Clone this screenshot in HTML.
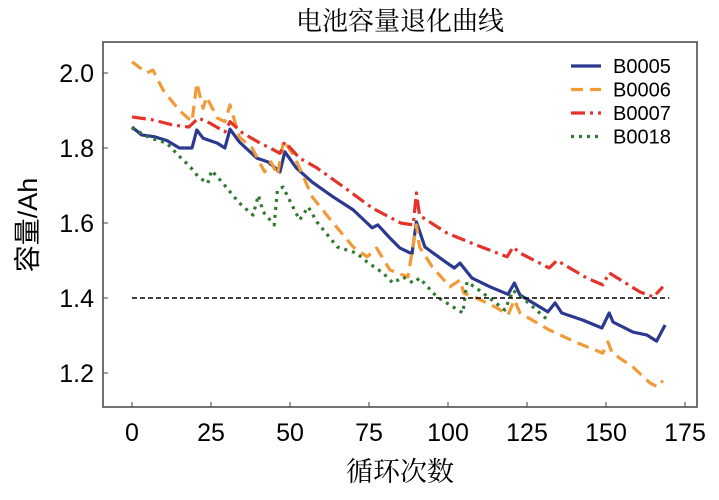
<!DOCTYPE html>
<html><head><meta charset="utf-8"><style>
body{margin:0;background:#fff}
svg text{font-family:"Liberation Sans","Noto Sans CJK SC",sans-serif}
</style></head><body>
<svg width="719" height="495" viewBox="0 0 719 495">
<text x="400" y="30" text-anchor="middle" font-size="26" style="font-family:'Liberation Serif','Noto Serif CJK SC',serif">电池容量退化曲线</text>
<rect x="103" y="42" width="594" height="365" fill="none" stroke="#444" stroke-width="1.5"/>
<g id="axes"></g>
<g id="series"></g>
<line id="thr" stroke="#000" stroke-width="1.4" stroke-dasharray="5,3"/>
<g id="legend"></g>
<text x="400" y="481" text-anchor="middle" font-size="27" style="font-family:'Liberation Serif','Noto Serif CJK SC',serif">循环次数</text>
<text transform="translate(37,225) rotate(-90)" text-anchor="middle" font-size="27">容量/Ah</text>
</svg>
<script>
const xTicks=[0,25,50,75,100,125,150,175];
const yTicks=[1.2,1.4,1.6,1.8,2.0];
const seriesNames=["B0005","B0006","B0007","B0018"];
const b0005=[[0,1.856],[3,1.835],[7,1.83],[11,1.82],[15,1.80],[19,1.80],[20.5,1.848],[22.5,1.826],[27,1.813],[29.4,1.80],[31,1.85],[34,1.816],[39.5,1.773],[43,1.763],[46.8,1.736],[48.4,1.79],[52,1.747],[57,1.709],[63.6,1.67],[70,1.635],[76,1.587],[77.8,1.595],[81.6,1.56],[84.8,1.533],[88.6,1.518],[90,1.603],[92.7,1.536],[99.7,1.493],[102,1.48],[103.8,1.493],[107.6,1.453],[113.3,1.43],[119,1.41],[121,1.44],[122.8,1.408],[131.6,1.363],[133.9,1.387],[136,1.36],[142.7,1.341],[148.7,1.32],[151,1.36],[152.2,1.336],[158.5,1.309],[163,1.301],[166,1.285],[168.7,1.328]];
const b0006=[[0,2.03],[4.7,2.0],[6.6,2.008],[9.8,1.955],[15,1.90],[19,1.87],[20.5,1.973],[22.5,1.906],[23.6,1.936],[27,1.88],[29.4,1.87],[31,1.915],[34,1.829],[38,1.80],[42,1.736],[44,1.763],[46,1.728],[48,1.82],[51.5,1.776],[57,1.67],[62.7,1.61],[70,1.536],[74.4,1.51],[77.4,1.533],[81.6,1.475],[87.3,1.456],[89.6,1.573],[90,1.595],[91,1.536],[95,1.483],[100.6,1.43],[103.8,1.448],[105,1.413],[109,1.40],[115,1.376],[119,1.355],[121,1.395],[122.8,1.36],[132,1.315],[141,1.28],[149,1.253],[150.6,1.283],[152,1.253],[158.5,1.216],[164,1.173],[166.4,1.163],[168,1.18]];
const b0007=[[0,1.883],[6.6,1.875],[13,1.861],[18,1.856],[21,1.88],[24.7,1.866],[29.4,1.843],[31,1.87],[35,1.84],[40.5,1.813],[43.7,1.80],[46.8,1.786],[48.4,1.816],[53,1.773],[58.5,1.747],[67,1.696],[76,1.64],[85,1.60],[89,1.595],[90,1.68],[91,1.62],[99.7,1.573],[109,1.541],[118.7,1.51],[120.6,1.536],[122.8,1.52],[132,1.48],[134.5,1.50],[144,1.453],[149,1.435],[151,1.467],[160.8,1.416],[165,1.403],[168,1.43]];
const b0018=[[0,1.853],[5.7,1.827],[11,1.813],[14.6,1.781],[18.4,1.75],[21,1.723],[24,1.706],[25.2,1.74],[28.8,1.706],[34,1.653],[38.3,1.621],[40,1.674],[41.5,1.63],[45,1.595],[46,1.688],[47.8,1.696],[53,1.608],[55.8,1.643],[58.5,1.603],[65,1.536],[71,1.52],[74.4,1.496],[79.4,1.467],[82.6,1.44],[85.8,1.456],[89,1.44],[91,1.453],[96.5,1.403],[104.7,1.36],[106,1.443],[110,1.42],[118,1.368],[120.6,1.42],[125,1.39],[131.6,1.341]];
const threshold=1.4;
const NS="http://www.w3.org/2000/svg";
function X(c){return 132+c*3.16;}
function Y(v){return 73+(2.0-v)*375;}
const axes=document.getElementById('axes');
xTicks.forEach(t=>{
 const l=document.createElementNS(NS,'line');
 l.setAttribute('x1',X(t));l.setAttribute('x2',X(t));l.setAttribute('y1',407);l.setAttribute('y2',402);l.setAttribute('stroke','#444');
 
 
 axes.appendChild(l);
 const tx=document.createElementNS(NS,'text');
 tx.setAttribute('x',X(t));tx.setAttribute('y',441);tx.setAttribute('text-anchor','middle');tx.setAttribute('font-size','25');
 tx.textContent=t;
 
 
 axes.appendChild(tx);
});
yTicks.forEach(t=>{
 const l=document.createElementNS(NS,'line');
 l.setAttribute('x1',103);l.setAttribute('x2',108);l.setAttribute('y1',Y(t));l.setAttribute('y2',Y(t));l.setAttribute('stroke','#444');
 
 
 axes.appendChild(l);
 const tx=document.createElementNS(NS,'text');
 tx.setAttribute('x',94);tx.setAttribute('y',Y(t)+9);tx.setAttribute('text-anchor','end');tx.setAttribute('font-size','25');
 tx.textContent=t.toFixed(1);
 
 
 axes.appendChild(tx);
});
const styles=[["#2b3990","none"],["#f29a38","12,7"],["#e3332b","14,5,3,5"],["#2f7a2f","3,5"]];
const datas=[b0005,b0006,b0007,b0018];
const sg=document.getElementById('series');
datas.forEach((d,i)=>{
 const p=document.createElementNS(NS,'polyline');
 p.setAttribute('points',d.map(q=>X(q[0]).toFixed(1)+','+Y(q[1]).toFixed(1)).join(' '));
 p.setAttribute('fill','none');p.setAttribute('stroke',styles[i][0]);p.setAttribute('stroke-width','3.2');
 p.setAttribute('stroke-dasharray',styles[i][1]);p.setAttribute('stroke-linejoin','round');
 
 
 sg.appendChild(p);
});
const thr=document.getElementById('thr');
thr.setAttribute('x1',X(0));thr.setAttribute('x2',X(170));thr.setAttribute('y1',Y(threshold));thr.setAttribute('y2',Y(threshold));
const lg=document.getElementById('legend');
seriesNames.forEach((n,i)=>{
 const y=66+i*23.5;
 const l=document.createElementNS(NS,'line');
 l.setAttribute('x1',571);l.setAttribute('x2',601);l.setAttribute('y1',y);l.setAttribute('y2',y);
 l.setAttribute('stroke',styles[i][0]);l.setAttribute('stroke-width','3.2');l.setAttribute('stroke-dasharray',styles[i][1]);
 
 
 lg.appendChild(l);
 const t=document.createElementNS(NS,'text');
 t.setAttribute('x',613);t.setAttribute('y',y+7);t.setAttribute('font-size','20');t.textContent=n;
 
 
 lg.appendChild(t);
});
</script>
</body></html>
